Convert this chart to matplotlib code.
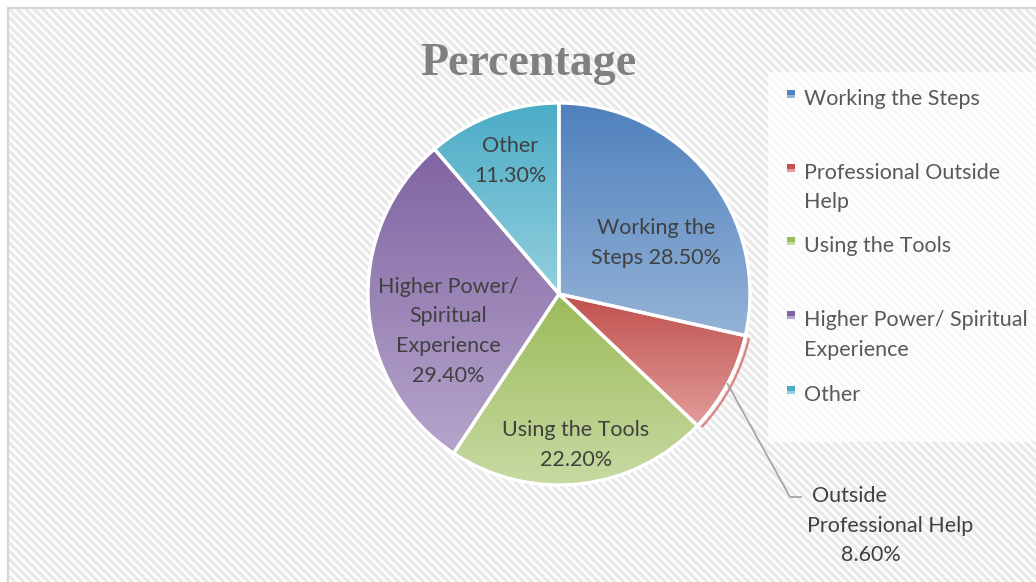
import numpy as np
import matplotlib
matplotlib.use("Agg")
import matplotlib.pyplot as plt
from matplotlib.patches import Rectangle, Arc
from matplotlib.colors import to_rgb

# data
labels = ["Working the Steps", "Professional Outside Help", "Using the Tools",
          "Higher Power/ Spiritual Experience", "Other"]
legend_lines = ["Working the Steps", "Professional Outside\nHelp", "Using the Tools",
                "Higher Power/ Spiritual\nExperience", "Other"]
pie_labels = ["Working the\nSteps 28.50%", "Outside\nProfessional Help\n8.60%",
              "Using the Tools\n22.20%", "Higher Power/\nSpiritual\nExperience\n29.40%",
              "Other\n11.30%"]
values = [28.5, 8.6, 22.2, 29.4, 11.3]
top_cols = ["#4f81bd", "#c0504d", "#9bbb59", "#8064a2", "#4bacc6"]
bot_cols = ["#95b3d7", "#e29d9b", "#c8daa3", "#b6a5cb", "#93cfde"]

W, H = 1036, 582
LS = 29.5  # line step in px
FS = 15.5
plt.rcParams['hatch.linewidth'] = 2.4
fig = plt.figure(figsize=(W / 100, H / 100), dpi=100)
fig.patch.set_facecolor('white')
ax = fig.add_axes([0, 0, 1, 1])
ax.axis('off')

def Y(y):  # image row -> data y
    return H - y

# striped chart area with border
ax.add_patch(Rectangle((8, Y(590)), 1040, 582, facecolor='white',
                       edgecolor='#e9e9e9', lw=0, hatch='\\\\\\\\', zorder=0))
ax.add_patch(Rectangle((8, Y(590)), 1040, 582, facecolor='none',
                       edgecolor='#d6d6d6', lw=1.6, zorder=0.5))

# legend panel
ax.add_patch(Rectangle((768, Y(442)), 300, 370, facecolor='white',
                       edgecolor='none', alpha=0.72, zorder=1))

cx, cy, R = 559, Y(294), 191
wedges, _ = ax.pie(values, startangle=90, counterclock=False, center=(cx, cy),
                   radius=R, wedgeprops=dict(facecolor='none', edgecolor='white',
                                             linewidth=2.4), frame=True)
for w, c0, c1 in zip(wedges, top_cols, bot_cols):
    w.set_zorder(4)
    ext = w.get_path().get_extents()
    grad = np.linspace(to_rgb(c0), to_rgb(c1), 256)[:, None, :]
    im = ax.imshow(grad, extent=(ext.x0, ext.x1, ext.y0, ext.y1), origin='upper',
                   aspect='auto', interpolation='bilinear', zorder=3)
    im.set_clip_path(w)

# thin outer rim on the small red slice
wr = wedges[1]
ax.add_patch(Arc((cx, cy), 2 * (R + 4), 2 * (R + 4), theta1=wr.theta1 + 0.6,
                 theta2=wr.theta2 - 0.4, color='#d98683', lw=1.7, zorder=4))

fam = ['Lato', 'DejaVu Sans']

def lines_at(txt, xs, y0, color, ha='center'):
    parts = txt.split('\n')
    if not isinstance(xs, (list, tuple)):
        xs = [xs] * len(parts)
    for i, (line, x) in enumerate(zip(parts, xs)):
        ax.text(x, Y(y0 + i * LS), line, ha=ha, va='center', fontsize=FS,
                color=color, family=fam, zorder=6)

# labels inside slices (first-line image-pixel positions)
lab_pos = [(656, 228), None, (576, 430), (448, 287), (510, 146)]
for txt, pos in zip(pie_labels, lab_pos):
    if pos is not None:
        lines_at(txt, pos[0], pos[1], '#404040')

# outside label with leader line
mid = np.deg2rad((wr.theta1 + wr.theta2) / 2)
sx, sy = cx + R * np.cos(mid), cy + R * np.sin(mid)
ax.plot([sx, 790, 801], [sy, Y(497), Y(497)], color='#a6a6a6', lw=1.3, zorder=5)
lines_at(pie_labels[1], [849, 890, 871], 496, '#404040')

# legend
leg_y = [99, 173, 246, 320, 395]
for txt, y, c0, c1 in zip(legend_lines, leg_y, top_cols, bot_cols):
    ax.add_patch(Rectangle((787, Y(y) + 1), 8, 8, facecolor=c0, edgecolor='none',
                           zorder=6))
    ax.add_patch(Rectangle((787, Y(y) + 1), 8, 3, facecolor=c1, edgecolor='none',
                           zorder=6))
    lines_at(txt, 804, y, '#595959', ha='left')

ax.text(528, Y(64), "Percentage", ha='center', va='center', fontsize=33,
        fontweight='bold', color='#808080', family=['Liberation Serif', 'DejaVu Serif'],
        zorder=6)

ax.set_xlim(0, W)
ax.set_ylim(0, H)
ax.set_aspect('auto')
fig.savefig("out.png", dpi=100)
